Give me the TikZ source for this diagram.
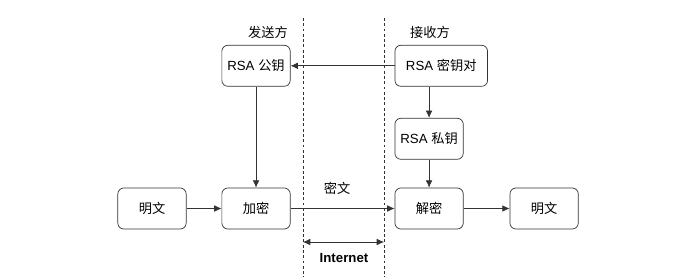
\documentclass[tikz,border=0pt]{standalone}
\usepackage{fontspec}
\setmainfont{Liberation Sans}
\newfontfamily\cjk{Noto Sans CJK SC}
\usetikzlibrary{arrows.meta,positioning}

\begin{document}
\begin{tikzpicture}[
x=0.03cm, y=-0.03cm,
font=\fontsize{11.3}{13}\selectfont,
box/.style={draw=black!80, rounded corners=1.8mm, align=center, minimum width=2.05cm, minimum height=1.23cm, line width=0.6pt},
arrow/.style={-{Latex[length=2.2mm,width=2mm]}, line width=0.6pt, draw=black!80},
twoway/.style={{Latex[length=2.2mm,width=2mm]}-{Latex[length=2.2mm,width=2mm]}, line width=0.6pt, draw=black!80},
border/.style={dash pattern=on 2.5pt off 2pt, line width=0.6pt, draw=black!80}
]
\useasboundingbox (0,0) rectangle (700,277);

\node[box] (plainA) at (152,208.5) {\cjk 明文};
\node[box, right=1.05cm of plainA] (encrypt) {\cjk 加密};
\node[box, right=3.12cm of encrypt] (decrypt) {\cjk 解密};
\node[box, right=1.38cm of decrypt] (plainB) {\cjk 明文};
\node[box, above=3.03cm of encrypt] (pubkey) {RSA {\cjk 公钥}};
\node[box, right=3.12cm of pubkey, minimum width=2.78cm] (keypair) {RSA {\cjk 密钥对}};
\node[box, above=0.84cm of decrypt] (privkey) {RSA {\cjk 私钥}};

% sender / receiver side
\node (sender) at (268,32) {\cjk 发送方};
\node (receiver) at (430,32) {\cjk 接收方};
\node (cipher) at (337,188) {\cjk 密文};

\coordinate (lineLT) at (303,18);
\coordinate (lineLB) at (303,277);
\coordinate (lineRT) at (384,18);
\coordinate (lineRB) at (384,277);
\draw[border] (lineLT) -- (lineLB);
\draw[border] (lineRT) -- (lineRB);

\coordinate (netL) at (303,242);
\coordinate (netR) at (384,242);
\draw[twoway] (netL) -- (netR);
\node[font=\fontsize{11.3}{13}\selectfont\bfseries] (internet) at (344,258) {Internet};

\draw[arrow] (keypair) -- (pubkey);
\draw[arrow] (privkey.north |- keypair.south) -- (privkey.north);
\draw[arrow] (pubkey) -- (encrypt);
\draw[arrow] (privkey) -- (decrypt);
\draw[arrow] (plainA) -- (encrypt);
\draw[arrow] (encrypt) -- (decrypt);
\draw[arrow] (decrypt) -- (plainB);
\end{tikzpicture}
\end{document}
